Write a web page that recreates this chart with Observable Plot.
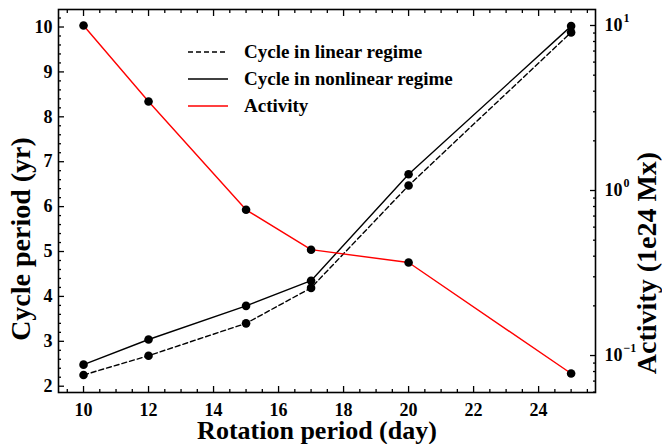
<!DOCTYPE html>
<html><head><meta charset="utf-8">
<script src="https://cdn.jsdelivr.net/npm/d3@7"></script>
<script src="https://cdn.jsdelivr.net/npm/@observablehq/plot@0.6"></script>
<style>
body{margin:0;background:#fff;}
#wrap{position:relative;width:662px;height:444px;font-family:"Liberation Serif","Times New Roman",serif;font-weight:bold;color:#000;}
#legend{position:absolute;left:188px;top:38px;font-size:19px;line-height:27px;}
#legend .row{display:flex;align-items:center;height:27px;}
#legend svg{width:40px;height:10px;margin-right:16px;}
</style></head><body><div id="wrap"></div>
<script>
// ---- data ----
const rotationPeriod = [10, 12, 15, 17, 20, 25];
const cycleLinear = [2.25, 2.68, 3.40, 4.19, 6.47, 9.88];
const cycleNonlinear = [2.48, 3.04, 3.79, 4.35, 6.72, 10.02];
const activity = [10.0, 3.46, 0.764, 0.438, 0.366, 0.0778];
const xTicks = [10, 12, 14, 16, 18, 20, 22, 24];
const yTicks = [2, 3, 4, 5, 6, 7, 8, 9, 10];
const activityTicks = [0.1, 1, 10];
const activityExponents = ["\u22121", "0", "1"];
const legendLabels = ["Cycle in linear regime", "Cycle in nonlinear regime", "Activity"];
const xLabel = "Rotation period (day)";
const yLabel = "Cycle period (yr)";
const y2Label = "Activity (1e24 Mx)";

// ---- scales ----
const xDomain = [9.23, 25.75];
const yDomain = [1.86, 10.39];
const actDomain = [0.0597, 12.5];
const la0 = Math.log10(actDomain[0]), la1 = Math.log10(actDomain[1]);
const toY = a => yDomain[0] + (Math.log10(a) - la0) / (la1 - la0) * (yDomain[1] - yDomain[0]);

const rows = rotationPeriod.map((r, i) => ({r, lin: cycleLinear[i], non: cycleNonlinear[i], act: toY(activity[i])}));

const xMinor = d3.range(9.5, 25.76, 0.5).filter(v => !xTicks.includes(v));
const yMinor = d3.range(2, 10.39, 0.2).map(v => +v.toFixed(1)).filter(v => !yTicks.includes(v));
const actMinor = [];
for (const e of [-2, -1, 0, 1]) for (let m = 2; m <= 9; m++) {
  const v = m * Math.pow(10, e);
  if (v >= actDomain[0] && v <= actDomain[1]) actMinor.push(v);
}

const noText = () => "";
const chart = Plot.plot({
  width: 662, height: 444,
  marginLeft: 58, marginRight: 67, marginTop: 9, marginBottom: 52,
  x: {domain: xDomain},
  y: {domain: yDomain},
  style: {fontFamily: '"Liberation Serif","Times New Roman",serif', fontWeight: "bold", fontSize: "18px", color: "black", background: "white"},
  marks: [
    // ticks (inward)
    Plot.axisX(xMinor, {anchor: "bottom", tickSize: -3, tickFormat: noText, label: null, strokeWidth: 1.3}),
    Plot.axisX(xTicks, {anchor: "bottom", tickSize: -6, tickFormat: noText, label: null, strokeWidth: 1.3}),
    Plot.axisX(xMinor, {anchor: "top", tickSize: -3, tickFormat: noText, label: null, strokeWidth: 1.3}),
    Plot.axisX(xTicks, {anchor: "top", tickSize: -6, tickFormat: noText, label: null, strokeWidth: 1.3}),
    Plot.axisX(xTicks, {anchor: "bottom", tickSize: 0, tickPadding: 11, label: null, fontSize: 18}),
    Plot.axisY(yMinor, {anchor: "left", tickSize: -3, tickFormat: noText, label: null, strokeWidth: 1.3}),
    Plot.axisY(yTicks, {anchor: "left", tickSize: -6, tickFormat: noText, label: null, strokeWidth: 1.3}),
    Plot.axisY(yTicks, {anchor: "left", tickSize: 0, tickPadding: 6, label: null, fontSize: 18}),
    Plot.axisY(actMinor.map(toY), {anchor: "right", tickSize: -3, tickFormat: noText, label: null, strokeWidth: 1.3}),
    Plot.axisY(activityTicks.map(toY), {anchor: "right", tickSize: -6, tickFormat: noText, label: null, strokeWidth: 1.3}),
    Plot.text(activityTicks, {y: d => toY(d), frameAnchor: "right", text: () => "10", textAnchor: "start", dx: 9, fontSize: 18}),
    Plot.text(activityTicks, {y: d => toY(d), frameAnchor: "right", text: (d, i) => activityExponents[i], textAnchor: "start", dx: 28, dy: -7, fontSize: 12}),
    Plot.frame({stroke: "black", strokeWidth: 1.6}),
    // data
    Plot.line(rows, {x: "r", y: "lin", stroke: "black", strokeWidth: 1.4, strokeDasharray: "5,3"}),
    Plot.line(rows, {x: "r", y: "non", stroke: "black", strokeWidth: 1.4}),
    Plot.line(rows, {x: "r", y: "act", stroke: "#ff0000", strokeWidth: 1.4}),
    Plot.dot(rows, {x: "r", y: "lin", r: 4.3, fill: "black"}),
    Plot.dot(rows, {x: "r", y: "non", r: 4.3, fill: "black"}),
    Plot.dot(rows, {x: "r", y: "act", r: 4.3, fill: "black"}),
    // titles
    Plot.text([xLabel], {frameAnchor: "bottom", lineAnchor: "middle", textAnchor: "middle", dx: -10, dy: 38, fontSize: 26, text: d => d}),
    Plot.text([yLabel], {frameAnchor: "left", lineAnchor: "middle", textAnchor: "middle", rotate: -90, dx: -37, dy: 38, fontSize: 28, text: d => d}),
    Plot.text([y2Label], {frameAnchor: "right", lineAnchor: "middle", textAnchor: "middle", rotate: -90, dx: 52, dy: 62, fontSize: 28, text: d => d})
  ]
});
const wrap = document.getElementById("wrap");
wrap.appendChild(chart);

// legend
const legendStyles = [
  {stroke: "black", dash: "5,3"},
  {stroke: "black", dash: null},
  {stroke: "#ff0000", dash: null}
];
const legend = document.createElement("div");
legend.id = "legend";
legendLabels.forEach((lab, i) => {
  const row = document.createElement("div");
  row.className = "row";
  const s = legendStyles[i];
  row.innerHTML = `<svg viewBox="0 0 40 10"><line x1="0" x2="40" y1="5" y2="5" stroke="${s.stroke}" stroke-width="1.4" ${s.dash ? `stroke-dasharray="${s.dash}"` : ""}/></svg><span>${lab}</span>`;
  legend.appendChild(row);
});
wrap.appendChild(legend);
</script>
</body></html>
